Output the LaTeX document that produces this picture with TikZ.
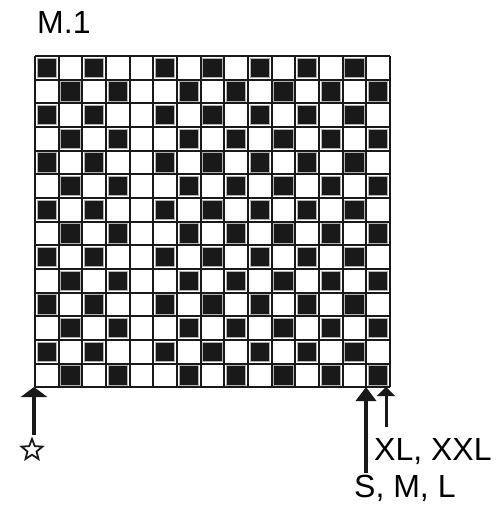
\documentclass[tikz,border=0pt]{standalone}
\usepackage{fontspec}
\setmainfont{Liberation Sans}
\usetikzlibrary{arrows.meta,shapes.geometric}

\begin{document}
\begin{tikzpicture}[x=1pt,y=-1pt,
  stitch/.style={fill=black!90,draw=black!30,line width=1pt},
  gridline/.style={line width=2pt,draw=black!90},
  sizetext/.style={font=\fontsize{32}{32}\selectfont,inner sep=0pt,anchor=base west},
  uparrow/.style={line width=#1,draw=black!90,fill=black!90}]
  \useasboundingbox (0,0) rectangle (498,506);
  \def\cw{23.667}
  % pattern squares
  \foreach \r in {1,3,...,13}
    \foreach \c in {1,3,6,8,10,12,14}
      \filldraw[stitch] ({35+(\c-1)*\cw+2.2},{56+(\r-1)*\cw+2.2}) rectangle +(19.3,19.3);
  \foreach \r in {2,4,...,14}
    \foreach \c in {2,4,7,9,11,13,15}
      \filldraw[stitch] ({35+(\c-1)*\cw+2.2},{56+(\r-1)*\cw+2.2}) rectangle +(19.3,19.3);
  % grid
  \foreach \c in {0,...,15}
    \draw[gridline] ({35+\c*\cw},56) -- ({35+\c*\cw},387);
  \foreach \r in {0,...,14}
    \draw[gridline] (35,{56+\r*\cw}) -- (390,{56+\r*\cw});
  \node[sizetext] (title) at (37,33) {M.1};
  \node[star,star points=5,star point ratio=2.3,draw=black!90,line width=1.8pt,
    minimum size=22pt,inner sep=0pt] (star) at (32,450) {};
  \node[sizetext] (xl) at (374,460) {XL, XXL};
  \node[sizetext] (sml) at (354,497) {S, M, L};
  \coordinate (start) at (34,435);
  \coordinate (startend) at (34,387);
  \coordinate (smlfoot) at (366,473);
  \coordinate (smltip) at (366,387);
  \coordinate (xlfoot) at (386,427);
  \coordinate (xltip) at (386,387);
  \draw[uparrow=4pt,-{Triangle[width=26pt,length=10pt]}] (start) -- (startend);
  \draw[uparrow=3.5pt,-{Triangle[width=20pt,length=14pt]}] (smlfoot) -- (smltip);
  \draw[uparrow=3pt,-{Triangle[width=18pt,length=9pt]}] (xlfoot) -- (xltip);
\end{tikzpicture}
\end{document}
